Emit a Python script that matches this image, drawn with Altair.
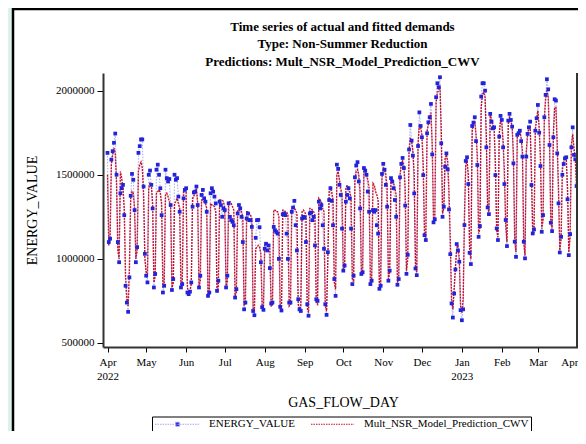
import altair as alt
import pandas as pd

# ---------------- data (values in thousands) ----------------
start_date = "2022-04-01"
series_names = ["ENERGY_VALUE", "Mult_NSR_Model_Prediction_CWV"]

actual_k = [
    1630, 1100, 1120,                              # Apr 1-3
    1590, 1640, 1690, 1745, 1500, 1100, 980,       # Apr 4
    1390, 1420, 1440, 1260, 840, 740, 685,         # Apr 11
    890, 1375, 1505, 1470, 1290, 980, 1070,        # Apr 18
    1630, 1670, 1710, 1710, 1430, 1030, 900,       # Apr 25
    860, 1500, 1525, 1440, 1300, 830, 910,         # May 2
    1530, 1560, 1500, 1420, 1260, 800, 840,        # May 9
    1530, 1480, 1460, 1475, 1320, 815, 880,        # May 16
    1500, 1470, 1480, 1370, 1280, 830, 850,        # May 23
    1360, 1410, 1420, 800, 790, 805, 860,          # May 30
    1310, 1395, 1400, 1430, 1320, 830, 900,        # Jun 6
    1380, 1410, 1360, 1340, 1280, 780, 800,        # Jun 13
    1390, 1420, 1400, 1370, 1330, 810, 870,        # Jun 20
    1340, 1320, 1250, 1300, 1290, 830, 900,        # Jun 27
    1330, 1250, 1230, 1220, 1200, 770, 820,        # Jul 4
    1270, 1320, 1300, 1250, 1100, 700, 740,        # Jul 11
    1240, 1270, 1230, 1230, 1190, 690, 665,        # Jul 18
    1125, 1230, 1232, 1188, 980, 713, 697,         # Jul 25
    1060, 1090, 1050, 1080, 945, 735, 740,         # Aug 1
    1190, 1170, 1160, 1150, 1000, 715, 693,        # Aug 8
    1265, 1270, 1260, 1150, 1000, 740, 740,        # Aug 15
    1280, 1305, 1345, 1200, 1050, 760, 700,        # Aug 22
    690, 1240, 1250, 1245, 1100, 730, 662,         # Aug 29
    1270, 1275, 1230, 1250, 1080, 760, 750,        # Sep 5
    1340, 1300, 1320, 1200, 1060, 730, 667,        # Sep 12
    1040, 1350, 1420, 1345, 1200, 880, 780,        # Sep 19
    1560, 1535, 1440, 1380, 1180, 930, 960,        # Sep 26
    1340, 1380, 1420, 1360, 1180, 850, 900,        # Oct 3
    1485, 1555, 1575, 1460, 1300, 910, 920,        # Oct 10
    1540, 1525, 1500, 1400, 1280, 850, 870,        # Oct 17
    1290, 1280, 1290, 1200, 1150, 822, 840,        # Oct 24
    1505, 1565, 1530, 1440, 1310, 870, 930,        # Oct 31
    1480, 1460, 1420, 1350, 1250, 846, 880,        # Nov 7
    1485, 1565, 1600, 1540, 1317, 911, 1024,       # Nov 14
    1650, 1796, 1703, 1614, 1389, 943, 903,        # Nov 21
    1671, 1871, 1790, 1723, 1498, 1141, 1112,      # Nov 28
    1747, 1812, 1842, 1921, 1621, 1217, 1235,      # Dec 5
    1961, 2044, 2020, 2080, 1687, 1250, 1310,      # Dec 12
    1548, 1627, 1532, 1294, 1028, 735, 651,        # Dec 19
    794, 937, 1088, 1050, 983, 695, 635,           # Dec 26
    700, 1201, 1582, 1604, 1445, 1036, 969,        # Jan 2
    1790, 1810, 1842, 1700, 1558, 1131, 1195,      # Jan 9
    1965, 2044, 2044, 2000, 1663, 1306, 1266,      # Jan 16
    1862, 1816, 1776, 1782, 1498, 1181, 1112,      # Jan 23
    1727, 1850, 1826, 1663, 1445, 1231, 1076,      # Jan 30
    1822, 1862, 1826, 1786, 1568, 1102, 1012,      # Feb 6
    1737, 1747, 1762, 1700, 1608, 1102, 1003,      # Feb 13
    1608, 1743, 1782, 1816, 1439, 1151, 1175,      # Feb 20
    1762, 1836, 1915, 1750, 1552, 1161, 1260,      # Feb 27
    1842, 1975, 2068, 2008, 1677, 1215, 1165,      # Mar 6
    1723, 1949, 1941, 1627, 1330, 1038, 1131,      # Mar 13
    1500, 1564, 1598, 1604, 1354, 1022, 1147,      # Mar 20
    1663, 1782, 1618, 1592, 1433,                  # Mar 27-31
]

pred_k = [
    1500, 1080, 1130,                              # Apr 1-3
    1560, 1620, 1660, 1630, 1450, 1050, 1000,      # Apr 4
    1520, 1480, 1420, 1300, 900, 760, 720,         # Apr 11
    950, 1360, 1400, 1390, 1300, 1000, 1050,       # Apr 18
    1520, 1560, 1575, 1540, 1380, 1000, 920,       # Apr 25
    900, 1420, 1450, 1440, 1330, 860, 900,         # May 2
    1390, 1400, 1410, 1390, 1330, 830, 860,        # May 9
    1380, 1390, 1370, 1340, 1310, 830, 850,        # May 16
    1330, 1340, 1360, 1330, 1300, 840, 860,        # May 23
    1400, 1410, 1400, 830, 800, 810, 850,          # May 30
    1360, 1370, 1400, 1420, 1330, 830, 870,        # Jun 6
    1350, 1350, 1340, 1330, 1300, 790, 810,        # Jun 13
    1330, 1320, 1320, 1310, 1280, 800, 830,        # Jun 20
    1350, 1350, 1350, 1340, 1300, 830, 860,        # Jun 27
    1340, 1340, 1330, 1310, 1290, 780, 800,        # Jul 4
    1290, 1290, 1280, 1280, 1250, 720, 740,        # Jul 11
    1280, 1280, 1270, 1260, 1240, 700, 690,        # Jul 18
    1060, 1070, 1080, 1070, 1030, 720, 700,        # Jul 25
    1080, 1090, 1090, 1080, 1060, 720, 720,        # Aug 1
    1290, 1290, 1280, 1280, 1250, 700, 690,        # Aug 8
    1290, 1290, 1280, 1280, 1260, 720, 730,        # Aug 15
    1300, 1300, 1300, 1290, 1270, 730, 700,        # Aug 22
    720, 1280, 1290, 1280, 1260, 710, 680,         # Aug 29
    1300, 1300, 1290, 1280, 1260, 740, 730,        # Sep 5
    1360, 1350, 1340, 1300, 1280, 720, 690,        # Sep 12
    1000, 1400, 1430, 1400, 1350, 860, 820,        # Sep 19
    1500, 1520, 1470, 1420, 1380, 930, 950,        # Sep 26
    1420, 1440, 1420, 1400, 1360, 880, 870,        # Oct 3
    1460, 1520, 1530, 1500, 1400, 920, 930,        # Oct 10
    1520, 1520, 1500, 1470, 1420, 870, 880,        # Oct 17
    1450, 1440, 1400, 1380, 1350, 830, 850,        # Oct 24
    1480, 1540, 1530, 1500, 1420, 880, 920,        # Oct 31
    1480, 1470, 1450, 1420, 1380, 860, 880,        # Nov 7
    1500, 1560, 1580, 1560, 1420, 930, 1000,       # Nov 14
    1640, 1720, 1700, 1640, 1500, 960, 920,        # Nov 21
    1680, 1800, 1780, 1740, 1560, 1150, 1120,      # Nov 28
    1760, 1800, 1830, 1870, 1680, 1230, 1240,      # Dec 5
    1930, 1990, 2000, 2030, 1760, 1270, 1300,      # Dec 12
    1600, 1620, 1580, 1400, 1120, 760, 700,        # Dec 19
    820, 950, 1060, 1080, 1000, 720, 680,          # Dec 26
    760, 1250, 1550, 1590, 1500, 1060, 1000,       # Jan 2
    1760, 1800, 1820, 1740, 1620, 1150, 1180,      # Jan 9
    1900, 1980, 1990, 1960, 1720, 1300, 1280,      # Jan 16
    1860, 1830, 1800, 1780, 1580, 1170, 1130,      # Jan 23
    1740, 1820, 1810, 1700, 1520, 1200, 1100,      # Jan 30
    1800, 1840, 1820, 1790, 1620, 1120, 1040,      # Feb 6
    1740, 1760, 1760, 1720, 1640, 1100, 1020,      # Feb 13
    1640, 1740, 1780, 1790, 1520, 1150, 1160,      # Feb 20
    1770, 1830, 1880, 1780, 1600, 1180, 1230,      # Feb 27
    1830, 1950, 2000, 1960, 1720, 1220, 1180,      # Mar 6
    1740, 1900, 1900, 1680, 1420, 1050, 1120,      # Mar 13
    1540, 1580, 1600, 1600, 1420, 1040, 1130,      # Mar 20
    1680, 1740, 1660, 1600, 1430,                  # Mar 27-31
]

y_ticks_k = [500, 1000, 1500, 2000]
month_ticks = [(2022, 4), (2022, 5), (2022, 6), (2022, 7), (2022, 8), (2022, 9),
               (2022, 10), (2022, 11), (2022, 12), (2023, 1), (2023, 2), (2023, 3),
               (2023, 4)]

title_lines = ["Time series of actual and fitted demands",
               "Type: Non-Summer Reduction",
               "Predictions: Mult_NSR_Model_Prediction_CWV"]

# ---------------- table ----------------
n = len(actual_k)
dates = list(pd.date_range(start_date, periods=n, freq="D").strftime("%Y-%m-%dT00:00:00"))
df = pd.DataFrame({
    "date": dates + dates,
    "series": [series_names[0]] * n + [series_names[1]] * len(pred_k),
    "value": actual_k + pred_k,
})

# ---------------- styling ----------------
W, H = 475, 274
FONT = "Liberation Serif"
MINT = "#ddf3ea"
BLUE_LINE = "#a8a8f0"
BLUE_PT = "#2323d9"
RED = "#c4122e"
# legend glyphs (unit = half of sqrt(symbolSize)): line with a small square, plain line
LEGEND_SHAPES = ["M-4.5,0H4.5M-0.4,-0.4H0.4V0.4H-0.4Z", "M-4.3,0H4.3"]

x_enc = alt.X(
    "date:T",
    title="GAS_FLOW_DAY",
    scale=alt.Scale(domain=[alt.DateTime(year=2022, month=3, date=28, hours=12),
                            alt.DateTime(year=2023, month=4, date=1, hours=3)],
                    nice=False),
    axis=alt.Axis(
        values=[alt.DateTime(year=y, month=m, date=1) for (y, m) in month_ticks],
        labelExpr="[timeFormat(datum.value, '%b'), (month(datum.value) == 0 || (month(datum.value) == 3 && year(datum.value) == 2022)) ? timeFormat(datum.value, '%Y') : '']",
        labelFont=FONT, labelFontSize=11, labelColor="black", labelLineHeight=14,
        labelPadding=4, labelFlush=2, labelOverlap=False,
        tickSize=5, tickColor="black", tickWidth=1,
        domainColor="#333333", domainWidth=2, grid=False,
        titleFont=FONT, titleFontSize=14, titleFontWeight="normal", titleColor="black",
        titleX=240, titleY=55, titleBaseline="middle", zindex=1,
    ),
)

y_enc = alt.Y(
    "value:Q",
    title="ENERGY_VALUE",
    scale=alt.Scale(domain=[476, 2105], zero=False, nice=False),
    axis=alt.Axis(
        values=y_ticks_k,
        labelExpr="format(datum.value * 1000, 'd')",
        labelFont=FONT, labelFontSize=11, labelColor="black", labelPadding=3,
        tickSize=6, tickColor="black", tickWidth=1,
        domainColor="#333333", domainWidth=2, grid=False,
        titleFont=FONT, titleFontSize=14, titleFontWeight="normal", titleColor="black",
        titleX=-71, titleY=H / 2, titleAngle=270, titleBaseline="middle", zindex=1,
    ),
)

legend = alt.Legend(
    title=None, orient="none", legendX=49, legendY=343.5, direction="horizontal",
    symbolSize=100, symbolStrokeWidth=1, symbolDash=[1.5, 1], symbolOpacity=1,
    symbolOffset=18,
    labelFont=FONT, labelFontSize=11, labelColor="black", labelLimit=400,
    labelOffset=26, columnPadding=14, padding=2,
    strokeColor="black", fillColor="white", zindex=1,
)

frame_df = pd.DataFrame({"k": [0]})

panel = alt.Chart(frame_df).mark_rect(fill="white", stroke="black", strokeWidth=2.5).encode(
    x=alt.value(-90), x2=alt.value(W + 30), y=alt.value(-64), y2=alt.value(H + 130))

base = alt.Chart(df)

blue_line = base.transform_filter(alt.datum.series == series_names[0]).mark_line(
    strokeWidth=1, strokeDash=[1.5, 1.5], color=BLUE_LINE).encode(x=x_enc, y=y_enc)

red_line = base.transform_filter(alt.datum.series == series_names[1]).mark_line(
    strokeWidth=1.4, strokeDash=[2, 1], color=RED).encode(x=x_enc, y=y_enc)

blue_pts = base.transform_filter(alt.datum.series == series_names[0]).mark_square(
    size=14, color=BLUE_PT, opacity=1).encode(x=x_enc, y=y_enc)

# legend-only layer (no rows drawn): colours and glyphs come from the scales
legend_layer = base.transform_filter("false").mark_point(
    filled=False, fill=BLUE_PT, strokeWidth=1).encode(
    x=x_enc, y=y_enc,
    color=alt.Color("series:N", scale=alt.Scale(domain=series_names, range=[BLUE_LINE, RED]),
                    legend=legend),
    shape=alt.Shape("series:N", scale=alt.Scale(domain=series_names, range=LEGEND_SHAPES),
                    legend=legend),
)

right_edge = alt.Chart(frame_df).mark_rule(color="#333333", strokeWidth=2).encode(
    x=alt.value(W - 1), y=alt.value(0), y2=alt.value(H))

chart = alt.layer(panel, blue_line, red_line, blue_pts, legend_layer, right_edge).properties(
    width=W, height=H,
    title=alt.TitleParams(text=title_lines, font=FONT, fontSize=13, fontWeight="bold",
                          color="black", anchor="middle", lineHeight=17.5, offset=-61,
                          frame="group", dx=2, zindex=1),
    background=MINT,
    padding={"left": 95, "top": 65, "right": 0, "bottom": 84},
    autosize=alt.AutoSizeParams(type="none"),
).configure_view(stroke=None)

chart.save("out.html", embed_options={"renderer": "svg", "actions": False})
